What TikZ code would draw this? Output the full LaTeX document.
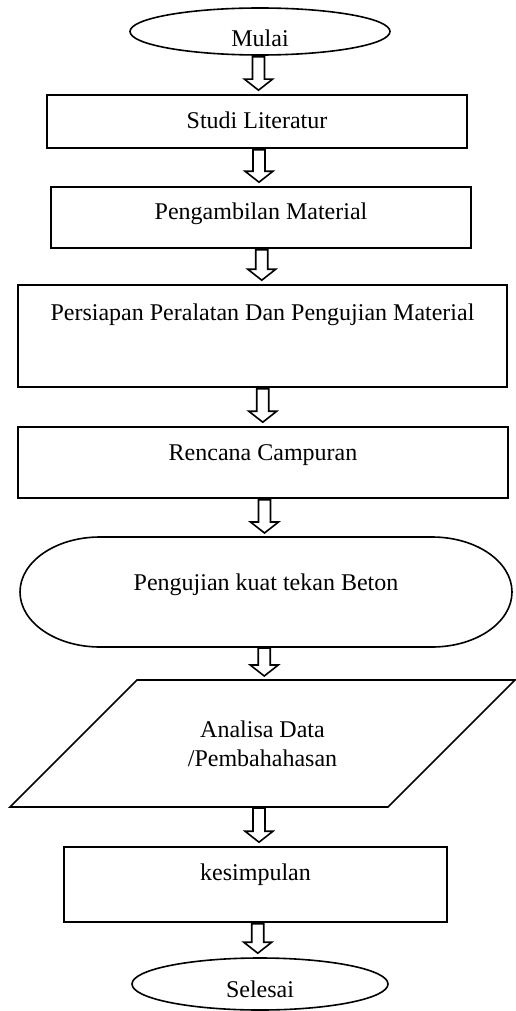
\documentclass[tikz,border=0pt]{standalone}
\usepackage{fontspec}
\setmainfont{Liberation Serif}
\usetikzlibrary{shapes.geometric,calc}

\begin{document}
\begin{tikzpicture}[x=0.5pt, y=-0.5pt, line width=0.8pt,
    font=\fontsize{12}{14.5}\selectfont,
    terminal/.style={draw, ellipse, inner sep=0pt, text depth=0pt},
    box/.style={draw, rectangle, inner ysep=0pt},
    blockarrow/.style={draw, fill=white, to path={
        let \p1=(\tikztostart), \p2=(\tikztotarget), \p3=($(\p1)!0.5!(\p2)$) in
        (\x3-3pt,\y1-0.5pt) -- (\x3-3pt,\y2+7.5pt) -- (\x3-7pt,\y2+7.5pt) -- (\x3,\y2+2pt)
        -- (\x3+7pt,\y2+7.5pt) -- (\x3+3pt,\y2+7.5pt) -- (\x3+3pt,\y1-0.5pt) -- cycle}}]
    \useasboundingbox (0,0) rectangle (515,1011);

    % Start
    \node[terminal, minimum width=130pt, minimum height=23.5pt, text height=15.5pt] (mulai) at (260,31.5) {Mulai};

    % Steps
    \node[box, minimum width=210pt, minimum height=26.5pt, text height=9pt, text depth=2.5pt] (studi) at (257,121.5) {Studi Literatur};
    \node[box, minimum width=210pt, minimum height=30.5pt, text height=9pt, text depth=7.5pt] (ambil) at (261,217.5) {Pengambilan Material};
    \node[box, minimum width=244.5pt, text height=17.5pt, text depth=33.5pt] (siap) at (262.5,336) {Persiapan Peralatan Dan Pengujian Material};
    \node[box, minimum width=245pt, text height=16.5pt, text depth=19pt] (rencana) at (263,462.5) {Rencana Campuran};

    % Test (rounded ends)
    \node[rectangle, inner ysep=0pt, outer sep=0pt, minimum width=246pt, text height=26.5pt, text depth=28.5pt] (uji) at (266,592) {Pengujian kuat tekan Beton};
    \draw ([xshift=40pt]uji.south west)
        arc[start angle=270, end angle=90, x radius=40pt, y radius=27.5pt]
        -- ([xshift=-40pt]uji.north east)
        arc[start angle=90, end angle=-90, x radius=40pt, y radius=27.5pt] -- cycle;

    % Analysis (parallelogram)
    \node[rectangle, align=center, outer sep=0pt, minimum width=189pt, minimum height=63.5pt] (analisa) at (262.5,743.5) {Analisa Data\\/Pembahahasan};
    \draw ([xshift=31.75pt]analisa.north west) -- ([xshift=31.75pt]analisa.north east)
        -- ([xshift=-31.75pt]analisa.south east) -- ([xshift=-31.75pt]analisa.south west) -- cycle;

    \node[box, minimum width=191.5pt, text height=16.5pt, text depth=21pt] (simpul) at (255.5,884.5) {kesimpulan};

    % End
    \node[terminal, minimum width=128pt, minimum height=26pt, text height=13pt] (selesai) at (260,984) {Selesai};

    % Arrows
    \draw[blockarrow] (mulai.south) to (studi.north);
    \draw[blockarrow] (studi.south) to (ambil.north);
    \draw[blockarrow] (ambil.south) to (siap.north);
    \draw[blockarrow] (siap.south) to (rencana.north);
    \draw[blockarrow] (rencana.south) to (uji.north);
    \draw[blockarrow] (uji.south) to (analisa.north);
    \draw[blockarrow] (analisa.south) to (simpul.north);
    \draw[blockarrow] (simpul.south) to (selesai.north);
\end{tikzpicture}
\end{document}
